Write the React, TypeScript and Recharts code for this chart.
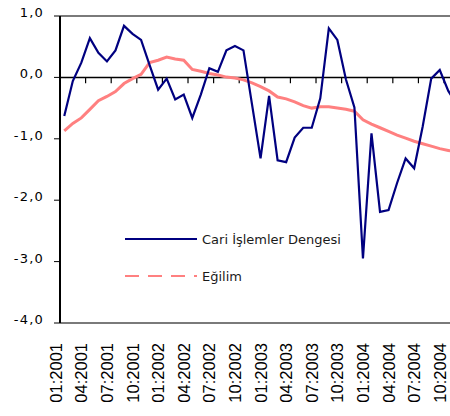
import React from "react";
import { LineChart, Line, XAxis, YAxis, ReferenceLine } from "recharts";

const months = [
  "01:2001", "02:2001", "03:2001", "04:2001", "05:2001", "06:2001", "07:2001", "08:2001", "09:2001", "10:2001", "11:2001", "12:2001",
  "01:2002", "02:2002", "03:2002", "04:2002", "05:2002", "06:2002", "07:2002", "08:2002", "09:2002", "10:2002", "11:2002", "12:2002",
  "01:2003", "02:2003", "03:2003", "04:2003", "05:2003", "06:2003", "07:2003", "08:2003", "09:2003", "10:2003", "11:2003", "12:2003",
  "01:2004", "02:2004", "03:2004", "04:2004", "05:2004", "06:2004", "07:2004", "08:2004", "09:2004", "10:2004", "11:2004", "12:2004",
];

const cariIslemler = [
  -0.63, -0.06, 0.24, 0.64, 0.40, 0.26, 0.44, 0.84, 0.71, 0.61, 0.20, -0.20,
  -0.02, -0.36, -0.28, -0.66, -0.28, 0.15, 0.09, 0.44, 0.51, 0.44, -0.44, -1.32,
  -0.30, -1.35, -1.38, -0.98, -0.82, -0.82, -0.34, 0.80, 0.61, -0.03, -0.49, -2.95,
  -0.91, -2.19, -2.16, -1.72, -1.32, -1.48, -0.80, -0.02, 0.12, -0.22, -0.45, -0.60,
];

const egilim = [
  -0.87, -0.75, -0.66, -0.52, -0.38, -0.31, -0.23, -0.10, -0.02, 0.05, 0.24, 0.28,
  0.33, 0.30, 0.28, 0.13, 0.10, 0.065, 0.04, 0.005, -0.01, -0.04, -0.09, -0.15,
  -0.22, -0.32, -0.35, -0.40, -0.46, -0.50, -0.48, -0.48, -0.50, -0.52, -0.55, -0.69,
  -0.76, -0.82, -0.88, -0.94, -0.99, -1.04, -1.08, -1.12, -1.16, -1.19, -1.22, -1.25,
];

const tickLabels = [
  "01:2001", "04:2001", "07:2001", "10:2001",
  "01:2002", "04:2002", "07:2002", "10:2002",
  "01:2003", "04:2003", "07:2003", "10:2003",
  "01:2004", "04:2004", "07:2004", "10:2004",
];

const xDomain = [0, 45.7];
const yDomain = [-4, 1];
const yTicks = [-4, -3, -2, -1, 0, 1];
const seriesNames = ["Cari İşlemler Dengesi", "Eğilim"];

const data = months.map((m, i) => ({
  pos: i + 0.5,
  month: m,
  cari: cariIslemler[i],
  egilim: egilim[i],
}));

const labelPositions = tickLabels.map((t) => months.indexOf(t) + 0.5);
const b = tickLabels.map((t) => months.indexOf(t));

const XTick = (props: any) => {
  const { x, y, payload } = props;
  return (
    <g transform={`translate(${x - 2.5},${y + 20})`}>
      <text x={0} y={0} transform="rotate(-90)" textAnchor="end" fontFamily="Liberation Sans, Arial, sans-serif" fontSize={16.5} fill="#000">
        {months[Math.floor(payload.value)]}
      </text>
    </g>
  );
};

const YTick = (props: any) => {
  const { x, y, payload } = props;
  return (
    <text x={x} y={y + 1} textAnchor="end" fontFamily="DejaVu Sans, Verdana, sans-serif" fontSize={13} letterSpacing={1.2} fill="#000">
      {payload.value.toFixed(1).replace(".", ",")}
    </text>
  );
};

const tickSeg = (v: number) => [
  { x: v, y: 0 },
  { x: v, y: -0.095 },
];

export default function App() {
  return (
    <div style={{ position: "fixed", left: 0, top: 0, width: 450, height: 416, background: "#fff" }}>
      <LineChart width={450} height={416} data={data} margin={{ top: 16, right: 0, bottom: 0, left: 0 }}>
        <XAxis dataKey="pos" type="number" domain={xDomain} ticks={labelPositions} tick={<XTick />} tickLine={false}
          tickSize={0} tickMargin={0} axisLine={{ stroke: "#7a7a7a", strokeWidth: 2 }} height={93} interval={0} allowDataOverflow />
        <YAxis type="number" domain={yDomain} ticks={yTicks} width={60} tick={<YTick />} tickSize={6}
          tickMargin={10} tickLine={{ stroke: "#000" }} axisLine={{ stroke: "#000", strokeWidth: 2 }} interval={0} />
        <ReferenceLine y={1} stroke="#7a7a7a" strokeWidth={2} />
        <ReferenceLine y={0} stroke="#000" strokeWidth={1.5} />
        <ReferenceLine segment={tickSeg(b[1])} stroke="#000" strokeWidth={1.2} />
        <ReferenceLine segment={tickSeg(b[2])} stroke="#000" strokeWidth={1.2} />
        <ReferenceLine segment={tickSeg(b[3])} stroke="#000" strokeWidth={1.2} />
        <ReferenceLine segment={tickSeg(b[4])} stroke="#000" strokeWidth={1.2} />
        <ReferenceLine segment={tickSeg(b[5])} stroke="#000" strokeWidth={1.2} />
        <ReferenceLine segment={tickSeg(b[6])} stroke="#000" strokeWidth={1.2} />
        <ReferenceLine segment={tickSeg(b[7])} stroke="#000" strokeWidth={1.2} />
        <ReferenceLine segment={tickSeg(b[8])} stroke="#000" strokeWidth={1.2} />
        <ReferenceLine segment={tickSeg(b[9])} stroke="#000" strokeWidth={1.2} />
        <ReferenceLine segment={tickSeg(b[10])} stroke="#000" strokeWidth={1.2} />
        <ReferenceLine segment={tickSeg(b[11])} stroke="#000" strokeWidth={1.2} />
        <ReferenceLine segment={tickSeg(b[12])} stroke="#000" strokeWidth={1.2} />
        <ReferenceLine segment={tickSeg(b[13])} stroke="#000" strokeWidth={1.2} />
        <ReferenceLine segment={tickSeg(b[14])} stroke="#000" strokeWidth={1.2} />
        <ReferenceLine segment={tickSeg(b[15])} stroke="#000" strokeWidth={1.2} />
        <Line type="linear" dataKey="egilim" stroke="#FF8080" strokeWidth={3} dot={false} isAnimationActive={false} />
        <Line type="linear" dataKey="cari" stroke="#000080" strokeWidth={2.2} dot={false} isAnimationActive={false} />
      </LineChart>
      <div style={{ position: "absolute", left: 125, top: 230, width: 260, height: 56 }}>
        <svg width={260} height={56} style={{ display: "block" }}>
          <line x1={0} y1={9} x2={72} y2={9} stroke="#000080" strokeWidth={2} />
          <text x={77} y={13.5} fontFamily="DejaVu Sans, Verdana, sans-serif" fontSize={13} fill="#1a1a1a">
            {seriesNames[0]}
          </text>
          <line x1={0} y1={46} x2={72} y2={46} stroke="#FF8080" strokeWidth={2} strokeDasharray="14 9" />
          <text x={77} y={50.5} fontFamily="DejaVu Sans, Verdana, sans-serif" fontSize={13} fill="#1a1a1a">
            {seriesNames[1]}
          </text>
        </svg>
      </div>
    </div>
  );
}
